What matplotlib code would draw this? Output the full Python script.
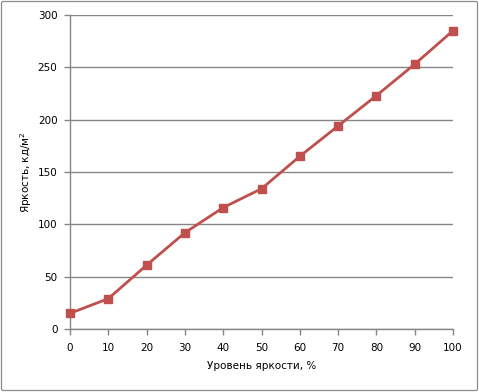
import matplotlib
matplotlib.use("Agg")
import matplotlib.pyplot as plt
from matplotlib.patches import FancyBboxPatch

x_vals = [0, 10, 20, 30, 40, 50, 60, 70, 80, 90, 100]
y_vals = [15, 29, 61, 92, 116, 134, 165, 194, 223, 253, 285]
x_ticks = [0, 10, 20, 30, 40, 50, 60, 70, 80, 90, 100]
y_ticks = [0, 50, 100, 150, 200, 250, 300]

W, H = 479, 392
fig = plt.figure(figsize=(W / 100, H / 100), dpi=100)
fig.patch.set_facecolor("white")
border = FancyBboxPatch((1.5 / W, 1.5 / H), (W - 3) / W, (H - 3) / H,
                        boxstyle="round,pad=0,rounding_size=0.004",
                        transform=fig.transFigure, fill=False,
                        edgecolor="#8c8c8c", linewidth=0.9)
fig.patches.append(border)

ax = fig.add_axes([70 / W, 1 - 329 / H, (453 - 70) / W, (329 - 15) / H])
gc = "#868686"
ax.plot(x_vals, y_vals, color="#C0504D", linewidth=2.0, marker="s",
        markersize=5.2, markerfacecolor="#C0504D", markeredgecolor="#C0504D",
        zorder=3, clip_on=False)
ax.set_xlim(0, 100)
ax.set_ylim(0, 300)
ax.set_xticks(x_ticks)
ax.set_yticks(y_ticks)
ax.yaxis.grid(True, color=gc, linewidth=1)
ax.set_axisbelow(True)
for s in ["top", "right"]:
    ax.spines[s].set_visible(False)
for s in ["left", "bottom"]:
    ax.spines[s].set_color(gc)
    ax.spines[s].set_linewidth(1)
ax.tick_params(axis="both", colors=gc, labelcolor="black", labelsize=7.5,
               length=4, width=1, direction="out")
ax.tick_params(axis="x", pad=6)
ax.tick_params(axis="y", pad=5)
ax.set_xlabel("Уровень яркости, %", fontsize=7.5, labelpad=6)
ax.set_ylabel("Яркость, кд/м$^2$", fontsize=7.5, labelpad=3)
fig.savefig("out.png", dpi=100)
